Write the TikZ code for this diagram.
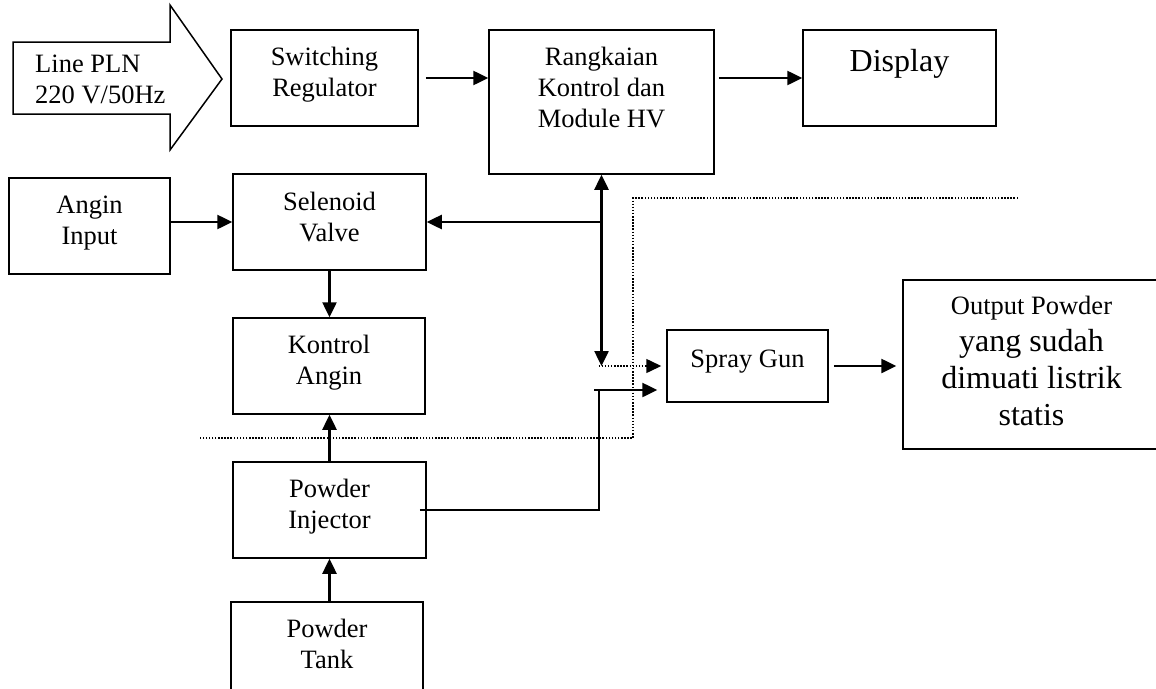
\documentclass[tikz,border=0pt]{standalone}
\usepackage{fontspec}
\setmainfont{Liberation Serif}
\usetikzlibrary{arrows.meta}
\newcommand\ctxt[1]{\begin{tabular}[t]{@{}c@{}}#1\end{tabular}}
\tikzset{Tri/.tip={Triangle[length=15pt,width=14pt]}}
\begin{document}
\begin{tikzpicture}[x=1pt,y=-1pt,
  box/.style={draw, line width=1.5pt, inner sep=0pt, rectangle},
  arr/.style={line width=2.5pt, -Tri},
  txt/.style={inner sep=0pt, anchor=base, font=\fontsize{26.5}{31}\selectfont},
  big/.style={inner sep=0pt, anchor=base, font=\fontsize{32}{37}\selectfont},
  dots/.style={line width=1.5pt, dash pattern=on 1.5pt off 1.6pt}
]
\useasboundingbox[fill=white] (0,0) rectangle (1156,688);

% block arrow
\draw[line width=1.5pt, line join=miter] (13,42) -- (170,42) -- (170,5) -- (222,79) -- (170,150) -- (170,114) -- (13,114) -- cycle;
\node[txt, anchor=base west] (lpt) at (35,72) {\begin{tabular}[t]{@{}l@{}}Line PLN\\220 V/50Hz\end{tabular}};

% boxes
\node[box, minimum width=187pt, minimum height=96pt] (sw) at (324.5,78) {};
\node[box, minimum width=225pt, minimum height=144pt] (rk) at (601.5,102) {};
\node[box, minimum width=193pt, minimum height=96pt] (dp) at (899.5,78) {};
\node[box, minimum width=161pt, minimum height=96pt] (ai) at (89.5,226) {};
\node[box, minimum width=193pt, minimum height=96pt] (sv) at (329.5,222) {};
\node[box, minimum width=192pt, minimum height=96pt] (ka) at (329,366) {};
\node[box, minimum width=193pt, minimum height=96pt] (pi) at (329.5,510) {};
\node[box, minimum width=192pt, minimum height=96pt] (pt) at (327,650) {};
\node[box, minimum width=161pt, minimum height=72pt] (sg) at (747.5,366) {};
\node[box, minimum width=257pt, minimum height=169pt] (op) at (1031.5,364.5) {};

% texts
\node[txt] (swt) at (324.5,65) {\ctxt{Switching\\Regulator}};
\node[txt] (rkt) at (601.5,65) {\ctxt{Rangkaian\\Kontrol dan\\Module HV}};
\node[big] (dpt) at (899.5,71) {Display};
\node[txt] (ait) at (89.5,213) {\ctxt{Angin\\Input}};
\node[txt] (svt) at (329.5,210) {\ctxt{Selenoid\\Valve}};
\node[txt] (kat) at (329,353) {\ctxt{Kontrol\\Angin}};
\node[txt] (pit) at (329.5,497) {\ctxt{Powder\\Injector}};
\node[txt] (ptt) at (327,637) {\ctxt{Powder\\Tank}};
\node[txt] (sgt) at (747.5,367) {Spray Gun};
\node[big] (opt) at (1031.5,314) {\ctxt{{\fontsize{26.5}{31}\selectfont Output Powder}\\yang sudah\\dimuati listrik\\statis}};

% coordinates
\coordinate (J) at (rk.south |- sv.east);
\coordinate (D) at (rk.south |- sg.west);
\coordinate (C) at (599,390);

% connectors
\draw[arr] ([xshift=7pt]sw.east) -- (sw.east -| rk.west);
\draw[arr] ([xshift=4pt]rk.east |- dp.west) -- (dp.west);
\draw[arr] (ai.east |- sv.west) -- (sv.west);
\draw[arr] (J) -- (sv.east);
\draw[line width=2.5pt, Tri-Tri] (rk.south) -- (D);
\draw[dots, -Tri] ([xshift=-3pt]D) -- ([xshift=-5pt]sg.west);
\draw[line width=1.7pt] ([xshift=-7pt]pi.east) -- (pi.east -| C) -- (C);
\draw[arr] ([xshift=-5pt]C) -- ([xshift=-9pt]sg.west |- C);
\draw[arr] ([xshift=5pt]sg.east) -- ([xshift=-6pt]sg.east -| op.west);
\draw[arr] (sv.south) -- (sv.south |- ka.north);
\draw[arr] (pi.north) -- (pi.north |- ka.south);
\draw[arr] (pi.south |- pt.north) -- (pi.south);

% dotted boundary
\draw[dots] (1018,198) -- (633,198) -- (633,438) -- (200,438);
\end{tikzpicture}
\end{document}
